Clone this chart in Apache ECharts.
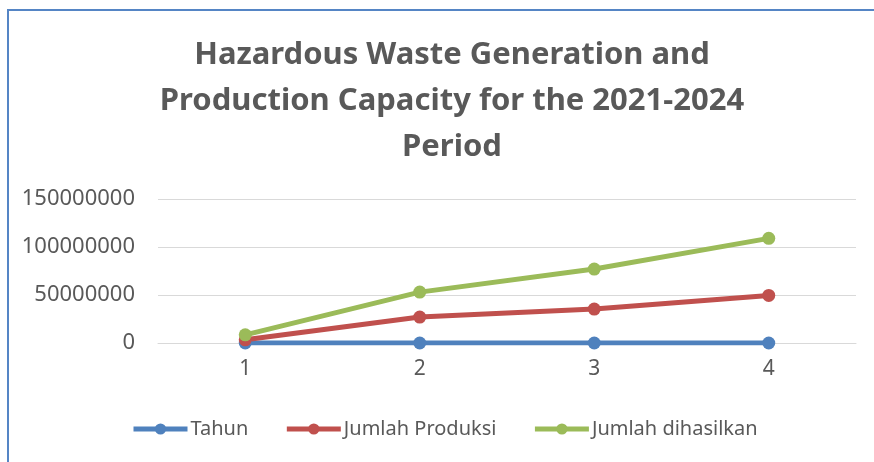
<!DOCTYPE html>
<html>
<head>
<meta charset="utf-8">
<script src="https://cdn.jsdelivr.net/npm/echarts@6/dist/echarts.min.js"></script>
<style>
    html, body { margin: 0; padding: 0; background: #fff; }
    #frame {
        position: absolute; left: 7px; top: 9px; width: 880px; height: 470px;
        border-left: 2px solid #5585c5; border-top: 2px solid #5585c5;
    }
    #chart { position: absolute; left: 0; top: 0; width: 874px; height: 462px; }
</style>
</head>
<body>
<div id="frame"></div>
<div id="chart"></div>
<script>
// data
const categories = ['1', '2', '3', '4']
const tahun = [2021, 2022, 2023, 2024]
const jumlahProduksi = [3300000, 27000000, 35300000, 49600000]
const jumlahDihasilkan = [8500000, 53000000, 77000000, 109000000]
const yTicks = [0, 50000000, 100000000, 150000000]

const textColor = '#595959'
const fontFam = '"Noto Sans", sans-serif'

const chart = echarts.init(document.getElementById('chart'))

function line(name, data, color) {
    return {
        name: name,
        type: 'line',
        data: data,
        symbol: 'circle',
        symbolSize: 13,
        lineStyle: { width: 5, color: color },
        itemStyle: { color: color },
        z: 3
    }
}

const opt = {
    animation: false,
    title: {
        text: 'Hazardous Waste Generation and\nProduction Capacity for the 2021-2024\nPeriod',
        left: 447,
        top: 27,
        textAlign: 'center',
        textStyle: {
            color: textColor,
            fontFamily: fontFam,
            fontWeight: 'bold',
            fontSize: 31,
            lineHeight: 46
        }
    },
    legend: {
        data: ['Tahun', 'Jumlah Produksi', 'Jumlah dihasilkan'],
        top: 414,
        left: 126,
        itemWidth: 54,
        itemHeight: 14,
        itemGap: 36,
        lineStyle: { width: 5 },
        textStyle: { color: textColor, fontFamily: fontFam, fontSize: 20, padding: [0, 0, 0, -2] }
    },
    grid: { left: 158, right: 18, top: 199, height: 144, containLabel: false },
    xAxis: {
        type: 'category',
        data: categories,
        boundaryGap: true,
        axisLine: { lineStyle: { color: '#d9d9d9', width: 1 } },
        axisTick: { show: false },
        axisLabel: { color: textColor, fontFamily: fontFam, fontSize: 21, margin: 16 }
    },
    yAxis: {
        type: 'value',
        min: yTicks[0],
        max: yTicks[yTicks.length - 1],
        interval: yTicks[1] - yTicks[0],
        axisLine: { show: false },
        axisTick: { show: false },
        axisLabel: {
            color: textColor, fontFamily: fontFam, fontSize: 22, margin: 23,
            formatter: v => String(v)
        },
        splitLine: { lineStyle: { color: '#d9d9d9', width: 1 } }
    },
    series: [
        line('Tahun', tahun, '#4f81bd'),
        line('Jumlah Produksi', jumlahProduksi, '#c0504d'),
        line('Jumlah dihasilkan', jumlahDihasilkan, '#9bbb59')
    ]
}
chart.setOption(opt)
</script>
</body>
</html>
